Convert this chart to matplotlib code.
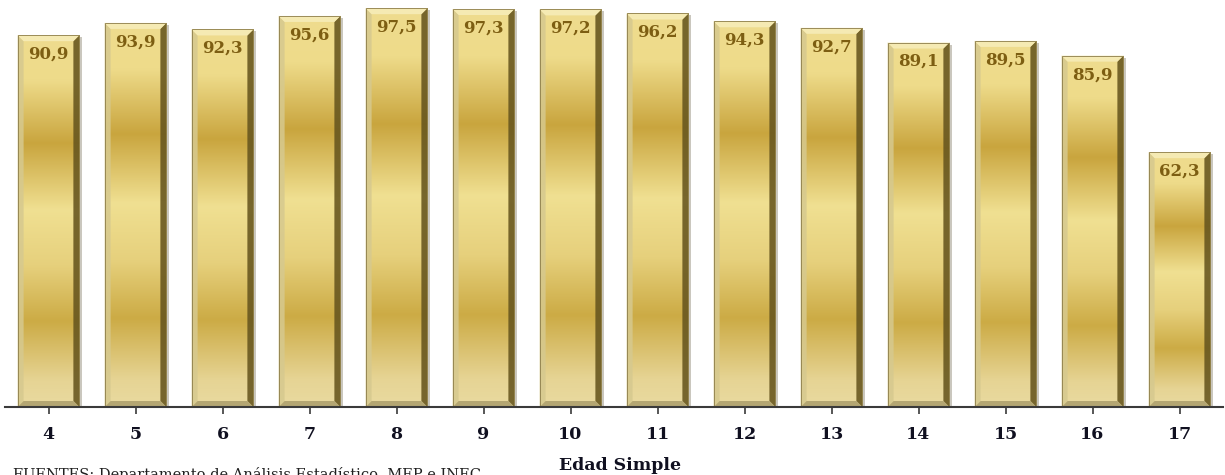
import numpy as np
import matplotlib
matplotlib.use("Agg")
import matplotlib.pyplot as plt
from matplotlib.patches import Polygon, Rectangle
from matplotlib.colors import LinearSegmentedColormap

# ---- data ----
edades = ["4", "5", "6", "7", "8", "9", "10", "11", "12", "13", "14", "15", "16", "17"]
tasas = [90.9, 93.9, 92.3, 95.6, 97.5, 97.3, 97.2, 96.2, 94.3, 92.7, 89.1, 89.5, 85.9, 62.3]
etiquetas = [f"{v:.1f}".replace(".", ",") for v in tasas]
xlabel_txt = "Edad Simple"
fuente_txt = "FUENTES: Departamento de Análisis Estadístico, MEP e INEC"

W, H, DPI = 1225, 475, 100
fig = plt.figure(figsize=(W / DPI, H / DPI), dpi=DPI)
ax = fig.add_axes([5 / W, 68 / H, 1218 / W, 407 / H])
x = np.arange(len(edades))
bw = 0.71
bars = ax.bar(x, tasas, width=bw, color="none", edgecolor="none", zorder=2)
ax.set_xlim(-0.5, len(edades) - 0.5)
ax.set_ylim(0, 99.5)

# gold gradient colormap (top -> bottom)
gold = LinearSegmentedColormap.from_list(
    "gold",
    [(0.0, "#efdc8e"), (0.12, "#eedb8a"), (0.29, "#c9a53e"), (0.47, "#f0e092"),
     (0.62, "#e6d07c"), (0.77, "#ccab45"), (0.93, "#e6d494"), (1.0, "#e9daa0")])
grad = np.linspace(0, 1, 256).reshape(-1, 1)

# pixel to data conversions
pxx = (len(edades)) / 1218.0
pxy = 99.5 / 407.0
bev_x = 6 * pxx
bev_y = 6 * pxy

for rect in bars:
    x0 = rect.get_x(); w = rect.get_width(); h = rect.get_height()
    x1 = x0 + w
    # drop shadow
    ax.add_patch(Rectangle((x0 + 2.5 * pxx, 0), w, h - 2 * pxy, color="#8a8470",
                           alpha=0.45, lw=0, zorder=1))
    im = ax.imshow(grad, cmap=gold, aspect="auto", extent=(x0, x1, 0, h),
                   origin="upper", zorder=2, interpolation="bilinear")
    im.set_clip_path(rect)
    # bevels
    left = Polygon([(x0, 0), (x0, h), (x0 + bev_x, h - bev_y), (x0 + bev_x, bev_y)],
                   closed=True, color="#d6c98f", alpha=0.85, lw=0, zorder=3)
    right = Polygon([(x1, 0), (x1, h), (x1 - bev_x, h - bev_y), (x1 - bev_x, bev_y)],
                    closed=True, color="#66551e", alpha=0.88, lw=0, zorder=3)
    top = Polygon([(x0, h), (x1, h), (x1 - bev_x, h - bev_y), (x0 + bev_x, h - bev_y)],
                  closed=True, color="#f6ecb8", alpha=0.9, lw=0, zorder=3)
    bot = Polygon([(x0, 0), (x1, 0), (x1 - bev_x, bev_y), (x0 + bev_x, bev_y)],
                  closed=True, color="#a89a68", alpha=0.8, lw=0, zorder=3)
    for p in (left, right, top, bot):
        ax.add_patch(p)
    # outer thin edge
    ax.add_patch(Rectangle((x0, 0), w, h, fill=False, ec="#8c7d4a", lw=0.6, zorder=4))

for xi, v, lab in zip(x, tasas, etiquetas):
    ax.text(xi, v - 19 * pxy, lab, ha="center", va="center", fontsize=12,
            fontweight="bold", family="DejaVu Serif", color="#7d5e12", zorder=5)

for s in ("left", "top", "right"):
    ax.spines[s].set_visible(False)
ax.spines["bottom"].set_color("#3a3a3a")
ax.spines["bottom"].set_linewidth(1.5)
ax.spines["bottom"].set_zorder(6)
ax.set_yticks([])
ax.set_xticks(x)
ax.set_xticklabels(edades, fontsize=12.5, fontweight="bold", family="DejaVu Serif",
                   color="#101020")
ax.tick_params(axis="x", direction="out", length=5, width=1.2, color="#3a3a3a", pad=9)

fig.text(620 / W, 1 - 465 / H, xlabel_txt, ha="center", va="center", fontsize=12.5,
         fontweight="bold", family="DejaVu Serif", color="#101020")
fig.text(13 / W, 1 - 467 / H, fuente_txt, ha="left", va="top", fontsize=10.5,
         family="DejaVu Serif", color="#202020")

fig.savefig("out.png", dpi=DPI, facecolor="white")
